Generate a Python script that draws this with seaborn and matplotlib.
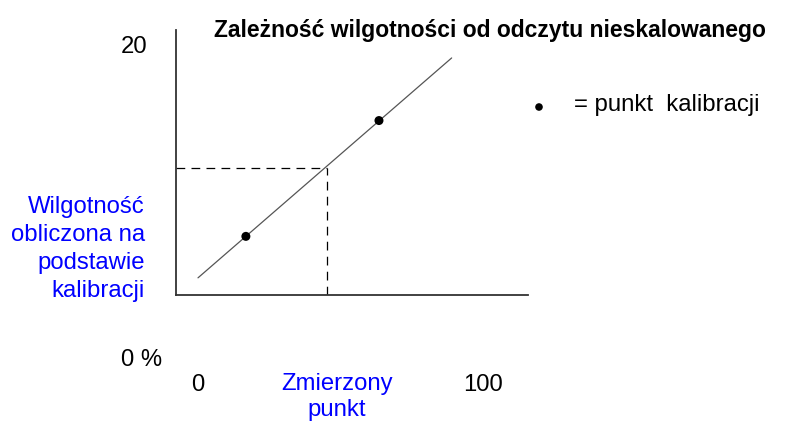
import matplotlib
matplotlib.use("Agg")
import matplotlib.pyplot as plt
import seaborn as sns
import pandas as pd

sns.set_theme(style="white")
plt.rcParams['font.family'] = ['Liberation Sans', 'DejaVu Sans']
plt.rcParams['text.color'] = 'black'

# data
line_x = [0.0, 89.0]
line_y = [5.25, 19.3]
calib_x = [16.8, 63.5]
calib_y = [7.9, 15.3]
read_x = 45.3
read_y = 12.3
x_tick_vals = [0, 100]
x_tick_labels = ["0", "100"]
y_tick_vals = [0, 20]
y_tick_labels = ["0 %", "20"]
title = "Zależność wilgotności od odczytu nieskalowanego"
xlabel = "Zmierzony\npunkt"
ylabel = "Wilgotność\nobliczona na\npodstawie\nkalibracji"
legend_text = "= punkt  kalibracji"

W, H = 794, 422
fig = plt.figure(figsize=(W / 100, H / 100), dpi=100)
# axes in pixel coordinates: left 176, right 528, top 30, bottom 295
ax = fig.add_axes([176 / W, 1 - 295 / H, (528 - 176) / W, (295 - 30) / H])

# data->pixel mapping: x=0 at px 198, x=100 at px 483; y=0 at px 360, y=20 at px 47
px_per_x = (483 - 198) / 100
px_per_y = (360 - 47) / 20
ax.set_xlim((176 - 198) / px_per_x, (528 - 198) / px_per_x)
ax.set_ylim((360 - 295) / px_per_y, (360 - 30) / px_per_y)

df_line = pd.DataFrame({"x": line_x, "y": line_y})
df_pts = pd.DataFrame({"x": calib_x, "y": calib_y})
sns.lineplot(data=df_line, x="x", y="y", ax=ax, color="#555555", linewidth=0.9)
sns.scatterplot(data=df_pts, x="x", y="y", ax=ax, color="black", s=42, edgecolor="none", zorder=5)

x0 = ax.get_xlim()[0]
y0 = ax.get_ylim()[0]
ax.plot([x0, read_x], [read_y, read_y], color="black", linewidth=0.9, linestyle=(0, (7, 5)))
ax.plot([read_x, read_x], [y0, read_y], color="black", linewidth=0.9, linestyle=(0, (7, 5)))

ax.set_xticks([])
ax.set_yticks([])
ax.set_xlabel("")
ax.set_ylabel("")
for s in ["top", "right"]:
    ax.spines[s].set_visible(False)
for s in ["left", "bottom"]:
    ax.spines[s].set_color("#333333")
    ax.spines[s].set_linewidth(1.3)

fs = 17.2
# x tick labels
for v, lab in zip(x_tick_vals, x_tick_labels):
    ax.text(v, (360 - 385) / px_per_y, lab, ha="center", va="center", fontsize=fs, color="black", clip_on=False)
# y tick labels
ax.text((162 - 198) / px_per_x, y_tick_vals[0], y_tick_labels[0], ha="right", va="center", fontsize=fs, color="black", clip_on=False)
ax.text((147 - 198) / px_per_x, y_tick_vals[1], y_tick_labels[1], ha="right", va="center", fontsize=fs, color="black", clip_on=False)

fig.text(337 / W, 1 - 397 / H, xlabel, ha="center", va="center", fontsize=fs, color="#0000ff", linespacing=1.28)
fig.text(145 / W, 1 - 249 / H, ylabel, ha="right", va="center", fontsize=fs, color="#0000ff", linespacing=1.37)
fig.text(490 / W, 1 - 30 / H, title, ha="center", va="center", fontsize=16.5, fontweight="bold", color="black")

ax.scatter([(539 - 198) / px_per_x], [(360 - 107) / px_per_y], s=30, color="black", edgecolor="none", clip_on=False, zorder=5)
fig.text(574 / W, 1 - 105 / H, legend_text, ha="left", va="center", fontsize=fs, color="black")

fig.savefig("out.png", dpi=100)
